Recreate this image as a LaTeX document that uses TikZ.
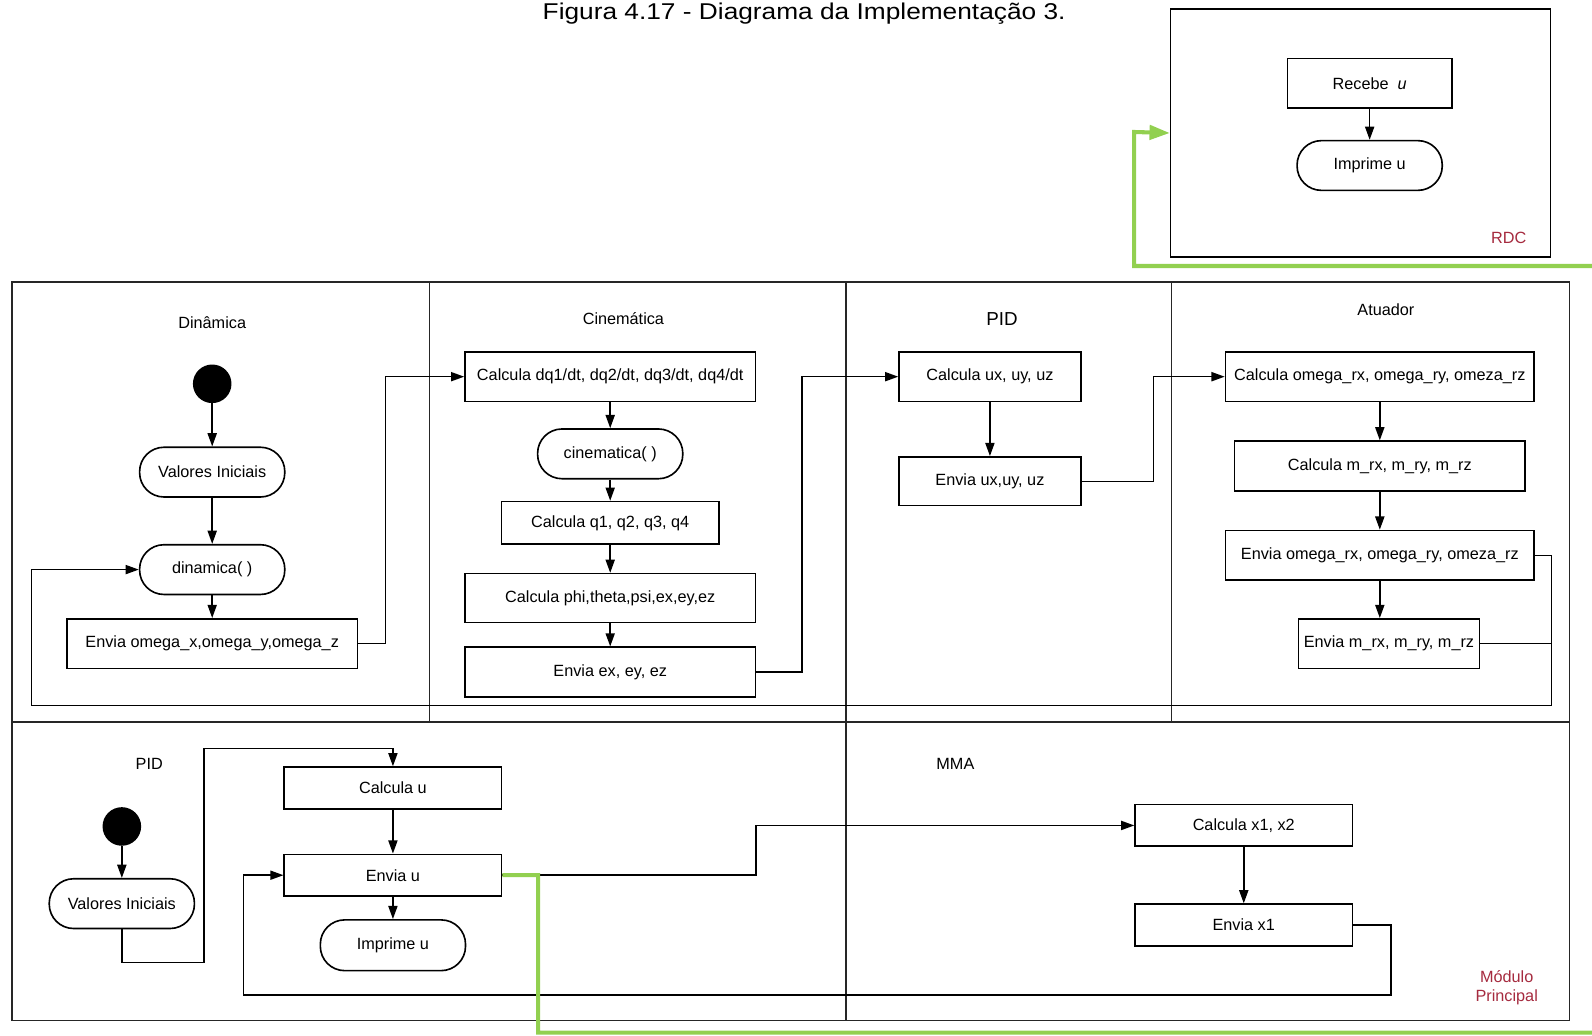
\documentclass[tikz,border=0pt]{standalone}
\usepackage{fontspec}
\setmainfont{Liberation Sans}
\newfontfamily\titlefont[FakeStretch=1.15]{Liberation Sans}
\usetikzlibrary{arrows.meta,calc}
\definecolor{grn}{RGB}{146,208,80}
\definecolor{lblred}{RGB}{166,43,63}
\tikzset{
  every node/.style={font=\fontsize{16}{19}\selectfont, inner sep=0pt},
  box/.style={draw, line width=1.6pt, rectangle},
  term/.style={draw, line width=1.6pt, rounded corners=24pt},
  startdot/.style={circle, fill=black, minimum size=38pt},
  flow/.style={line width=1.5pt, -{Triangle[length=13pt,width=9pt]}},
  link/.style={line width=1.5pt},
  lane/.style={line width=1.6pt, draw=black!85},
  gline/.style={draw=grn, line width=4pt, -{Triangle[length=20pt,width=14pt]}},
  redlbl/.style={text=lblred, align=center}
}
\begin{document}
\begin{tikzpicture}[x=1pt,y=-1pt]
\clip (0,0) rectangle (1568,1020);
\fill[white] (0,0) rectangle (1568,1020);
% title
\node (title) at (792,13) {\titlefont\fontsize{22.5}{26}\selectfont Figura 4.17 - Diagrama da Implementação 3.};
% RDC module
\node[box, minimum width=374pt, minimum height=244pt] (rdc) at (1340,131) {};
\node[box, minimum width=162pt, minimum height=49pt] (recebe) at (1349,82) {Recebe\ \ \textit{u}};
\node[term, minimum width=143pt, minimum height=49pt] (imp1) at (1349,163) {Imprime u};
\node[redlbl] (rdclbl) at (1486,234) {RDC};
\draw[flow] (recebe) -- (imp1);
% main frame and lanes
\draw[lane] (12,278) rectangle (1546,1005);
\draw[lane] (12,711) -- (1546,711);
\draw[lane] (423,278) -- (423,711);
\draw[lane] (833,278) -- (833,1005);
\draw[lane] (1154,278) -- (1154,711);
% Dinamica
\node (dinlbl) at (209,318) {Dinâmica};
\node[startdot] (s1) at (209,378) {};
\node[term, minimum width=143pt, minimum height=49pt] (vi1) at (209,465) {Valores Iniciais};
\node[term, minimum width=143pt, minimum height=49pt] (din) at (209,561) {dinamica( )};
\node[box, minimum width=286pt, minimum height=49pt] (envom) at (209,634) {Envia omega\_x,omega\_y,omega\_z};
% Cinematica
\node (cinlbl) at (614,314) {Cinemática};
\node[box, minimum width=286pt, minimum height=49pt] (cdq) at (601,371) {Calcula dq1/dt, dq2/dt, dq3/dt, dq4/dt};
\node[term, minimum width=143pt, minimum height=49pt] (cin) at (601,447) {cinematica( )};
\node[box, minimum width=214pt, minimum height=42pt] (cq) at (601,515) {Calcula q1, q2, q3, q4};
\node[box, minimum width=286pt, minimum height=48pt] (cphi) at (601,589) {Calcula phi,theta,psi,ex,ey,ez};
\node[box, minimum width=286pt, minimum height=49pt] (envex) at (601,662) {Envia ex, ey, ez};
% PID top
\node (pidlbl) at (987,314) {\fontsize{18.5}{21}\selectfont PID};
\node[box, minimum width=179pt, minimum height=49pt] (cux) at (975,371) {Calcula ux, uy, uz};
\node[box, minimum width=179pt, minimum height=48pt] (envux) at (975,474) {Envia ux,uy, uz};
% Atuador
\node (atulbl) at (1365,305) {Atuador};
\node[box, minimum width=304pt, minimum height=49pt] (comg) at (1359,371) {Calcula omega\_rx, omega\_ry, omeza\_rz};
\node[box, minimum width=286pt, minimum height=49pt] (cm) at (1359,459) {Calcula m\_rx, m\_ry, m\_rz};
\node[box, minimum width=304pt, minimum height=49pt] (envomg) at (1359,547) {Envia omega\_rx, omega\_ry, omeza\_rz};
\node[box, minimum width=178pt, minimum height=49pt] (envm) at (1368,634) {Envia m\_rx, m\_ry, m\_rz};
% PID bottom
\node (pid2lbl) at (147,752) {PID};
\node[startdot] (s2) at (120,814) {};
\node[term, minimum width=143pt, minimum height=49pt] (vi2) at (120,890) {Valores Iniciais};
\node[box, minimum width=214pt, minimum height=41pt] (cu) at (387,776) {Calcula u};
\node[box, minimum width=214pt, minimum height=41pt] (envu) at (387,862) {Envia u};
\node[term, minimum width=143pt, minimum height=50pt] (imp2) at (387,931) {Imprime u};
% MMA
\node (mmalbl) at (941,752) {MMA};
\node[box, minimum width=214pt, minimum height=41pt] (cx) at (1225,813) {Calcula x1, x2};
\node[box, minimum width=214pt, minimum height=41pt] (envx) at (1225,911) {Envia x1};
\node[redlbl] (modlbl) at (1484,973) {Módulo\\Principal};
% connectors - Dinamica
\draw[flow] (s1) -- (vi1);
\draw[flow] (vi1) -- (din);
\draw[flow] (din) -- (envom);
\draw[flow] (envom.east) -- ++(27,0) |- (cdq.west);
% Cinematica
\draw[flow] (cdq) -- (cin);
\draw[flow] (cin) -- (cq);
\draw[flow] (cq) -- (cphi);
\draw[flow] (cphi) -- (envex);
\draw[flow] (envex.east) -- ++(45,0) |- (cux.west);
% PID
\draw[flow] (cux) -- (envux);
\draw[flow] (envux.east) -- ++(71,0) |- (comg.west);
% Atuador
\draw[flow] (comg) -- (cm);
\draw[flow] (cm) -- (envomg);
\draw[flow] (envomg.south) -- (envomg.south |- envm.north);
\coordinate (retR) at (1528,695);
\coordinate (retL) at (31,695);
\draw[flow] (envomg.east) -| (retR) -- (retL) |- (din.west);
\draw[link] (envm.east) -- (envm.east -| retR);
% bottom PID
\draw[flow] (s2) -- (vi2);
\draw[flow] (vi2.south) |- (201,948) -- (201,737) -| (cu.north);
\draw[flow] (cu) -- (envu);
\draw[flow] (envu) -- (imp2);
\draw[flow] (envu.east) -- ++(250,0) |- (cx.west);
% MMA
\draw[flow] (cx) -- (envx);
\draw[flow] (envx.east) -- ++(37,0) |- (240,980) |- (envu.west);
% green link to RDC
\draw[gline] (envu.east) -- (530,862) -- (530,1017) -- (1580,1017) -- (1580,262) -- (1117,262) -- (1117,130) -- (rdc.west);
\end{tikzpicture}
\end{document}
